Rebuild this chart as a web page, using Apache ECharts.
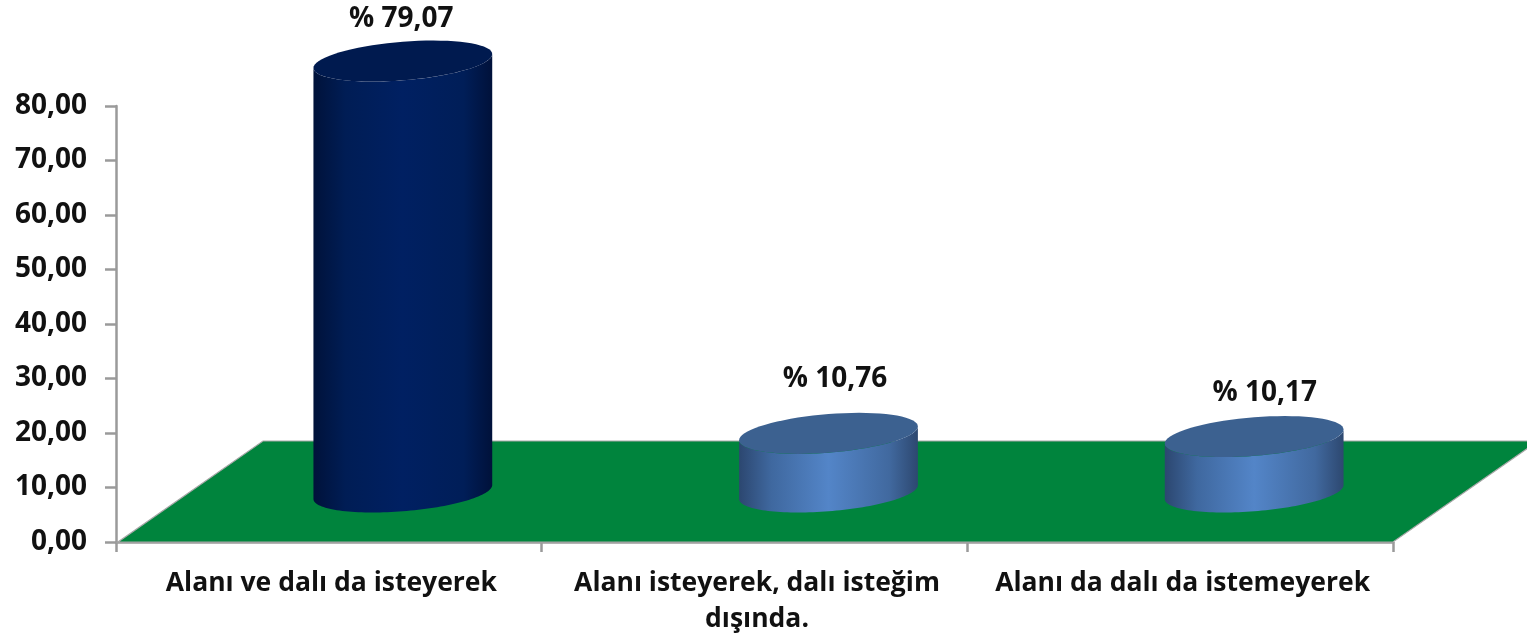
<!DOCTYPE html>
<html><head><meta charset="utf-8">
<style>html,body{margin:0;padding:0;background:#fff}#c{width:1527px;height:633px}</style>
<script src="https://cdn.jsdelivr.net/npm/echarts@6/dist/echarts.min.js"></script>
</head><body><div id="c"></div>
<script>
const categories = ['Alanı ve dalı da isteyerek', 'Alanı isteyerek, dalı isteğim\ndışında.', 'Alanı da dalı da istemeyerek'];
const values = [79.07, 10.76, 10.17];
const valueLabels = ['% 79,07', '% 10,76', '% 10,17'];

const FONT = '"Open Sans", "Noto Sans", sans-serif';
const DEPTH_X = 145, DEPTH_Y = 101;
const labelShift = [[-1.5, -42], [6.5, -54], [10.5, -44]];
const barStyles = [
  {cap: '#001a4f', stops: ['#00123a', '#001d55', '#002062', '#001e58', '#00113a']},
  {cap: '#3c6190', stops: ['#2c4770', '#3f689f', '#5385c8', '#41699f', '#2d4870']},
  {cap: '#3c6190', stops: ['#2c4770', '#3f689f', '#5385c8', '#41699f', '#2d4870']}
];

function renderFloor(params, api) {
  const band = api.size([1, 0])[0];
  const a = api.coord([0, 0]), b = api.coord([2, 0]);
  const l = a[0] - band / 2 + 2, r = b[0] + band / 2, y = a[1];
  return {type: 'polygon', z2: 1, shape: {points: [[l, y], [r, y], [r + DEPTH_X, y - DEPTH_Y], [l + DEPTH_X, y - DEPTH_Y]]},
    style: {fill: '#00843d', stroke: '#a8a8a8', lineWidth: 1.2}};
}

function ell(cx, cy, a, b, k, from, to) {
  const pts = [];
  for (let i = 0; i <= 72; i++) {
    const t = from + (to - from) * i / 72;
    const dx = a * Math.cos(t);
    pts.push([cx + dx, cy - k * dx + b * Math.sin(t)]);
  }
  return pts;
}

function renderBar(params, api) {
  const i = params.dataIndex;
  const base = api.coord([i, 0]), top = api.coord([i, api.value(1)]);
  const band = api.size([1, 0])[0];
  const a = band * 0.21, b = 19.3, k = 0.078;
  const cx = base[0] + 74, by = base[1] - 50, ty = top[1] - 50;
  const s = barStyles[i];
  const fill = new echarts.graphic.LinearGradient(0, 0, 1, 0, [
    {offset: 0, color: s.stops[0]}, {offset: 0.18, color: s.stops[1]}, {offset: 0.5, color: s.stops[2]},
    {offset: 0.84, color: s.stops[3]}, {offset: 1, color: s.stops[4]}]);
  const body = ell(cx, by, a, b, k, 0, Math.PI).concat(ell(cx, ty, a, b, k, Math.PI, 0));
  const cap = ell(cx, ty, a, b, k, 0, Math.PI * 2);
  return {type: 'group', z2: 5, children: [
    {type: 'polygon', shape: {points: body}, style: {fill}},
    {type: 'polygon', shape: {points: cap}, style: {fill: s.cap}},
    {type: 'text', x: cx + labelShift[i][0], y: ty + labelShift[i][1],
     style: {text: valueLabels[i], font: 'bold 28px ' + FONT, fill: '#111', align: 'center', verticalAlign: 'middle'}}
  ]};
}

const chart = echarts.init(document.getElementById('c'), null, {renderer: 'canvas'});
chart.setOption({
  animation: false,
  grid: {left: 116, right: 134, top: 106, bottom: 91, containLabel: false, outerBoundsMode: 'none'},
  xAxis: {type: 'category', data: categories, boundaryGap: true,
    axisLine: {lineStyle: {color: '#9a9a9a', width: 2.5}},
    axisTick: {show: true, alignWithLabel: false, length: 10, lineStyle: {color: '#9a9a9a', width: 2.5}},
    axisLabel: {color: '#111', fontFamily: FONT, fontWeight: 'bold', fontSize: 26.5, margin: 23, lineHeight: 36, interval: 0, padding: [0, 0, 0, 5]}},
  yAxis: {type: 'value', min: 0, max: 80, interval: 10,
    splitLine: {show: false},
    axisLine: {show: true, lineStyle: {color: '#9a9a9a', width: 2.5}},
    axisTick: {show: true, length: 11, lineStyle: {color: '#9a9a9a', width: 2.5}},
    axisLabel: {color: '#111', fontFamily: FONT, fontWeight: 'bold', fontSize: 28, margin: 29,
      formatter: v => v.toFixed(2).replace('.', ',')}},
  series: [
    {type: 'custom', coordinateSystem: 'cartesian2d', clip: false, z: 1, silent: true, renderItem: renderFloor, data: [[0, 0]], encode: {x: 0, y: 1}},
    {type: 'custom', coordinateSystem: 'cartesian2d', clip: false, z: 3, silent: true, renderItem: renderBar,
     data: values.map((v, i) => [i, v]), encode: {x: 0, y: 1}}
  ]
});
</script></body></html>
